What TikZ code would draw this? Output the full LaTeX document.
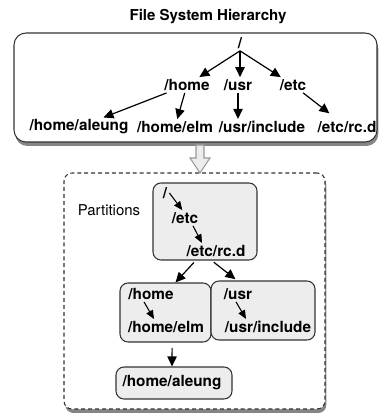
\documentclass[tikz,border=0pt]{standalone}
\usepackage{fontspec}
\setmainfont{TeX Gyre Heros}
\usepackage{tikz}
\usetikzlibrary{arrows.meta}
\usetikzlibrary{shadows}
\usetikzlibrary{fit}
\usetikzlibrary{positioning}
\tikzset{
  dirname/.style={font=\fontsize{11.5}{13}\selectfont\bfseries, inner sep=1.5pt},
  treebox/.style={draw=black!80, line width=0.8pt, rounded corners=9pt, fill=white, inner sep=0pt,
    drop shadow={shadow xshift=1pt, shadow yshift=-3pt, fill=black!80, opacity=0.6}},
  partbox/.style={draw=black!80, line width=0.8pt, rounded corners=6pt, fill=gray!14, inner sep=0pt}
}

\begin{document}
\begin{tikzpicture}[
    x=0.75pt, y=-0.75pt,
    big arrow/.style={-{Triangle[length=7.5pt,width=7pt]}, line width=0.9pt}, % tree arrows
    small arrow/.style={-{Triangle[length=6.5pt,width=5.5pt]}, line width=0.8pt} % arrows inside partitions
]
    \useasboundingbox (0,0) rectangle (378,413);

    % Boxes
    \node (hier) [treebox, fit={(14,33) (377,142)}] {};
    \node (parts) [treebox, dashed, dash pattern=on 3pt off 2.2pt, rounded corners=6pt, fit={(64,173) (325,409)}] {};
    \node (p1) [partbox, fit={(153,183) (257,260)}] {};
    \node (p2) [partbox, fit={(120,283) (211,342)}] {};
    \node (p3) [partbox, fit={(211,281) (315,340)}] {};
    \node (p4) [partbox, fit={(116,367) (232,399)}] {};

    % Title and label
    \node (title) [font=\fontsize{11.3}{13}\selectfont\bfseries] at (208,17) {File System Hierarchy};
    \node (plabel) [font=\fontsize{11.2}{13}\selectfont] at (109,210) {Partitions};

    % Define nodes (hierarchy)
    \node (root) [dirname] at (240,43) {/};
    \node (home) [dirname] at (187,85) {/home};
    \node (usr) [dirname] at (238,85) {/usr};
    \node (etc) [dirname] at (293,85) {/etc};
    \node (aleung) [dirname] at (79,127) {/home/aleung};
    \node (elm) [dirname] at (175,127) {/home/elm};
    \node (include) [dirname] at (262,127) {/usr/include};
    \node (rcd) [dirname] at (347,127) {/etc/rc.d};

    % Define nodes (partitions)
    \node (rootA) [dirname] at (165,193) {/};
    \node (etcA) [dirname] at (185,218) {/etc};
    \node (rcdA) [dirname] at (216,251) {/etc/rc.d};
    \node (homeB) [dirname] at (151,294) {/home};
    \node (elmB) [dirname] at (166,327) {/home/elm};
    \node (usrC) [dirname] at (238,294) {/usr};
    \node (includeC) [dirname] at (268,327) {/usr/include};
    \node (aleungD) [dirname] at (172,383) {/home/aleung};

    % Draw edges (hierarchy)
    \draw[big arrow] (root.south) -- (home);
    \draw[big arrow] (root.south) -- (root.south |- usr.north);
    \draw[big arrow] (root.south) -- (etc);
    \draw[big arrow] (home) -- (aleung);
    \draw[big arrow] (home) -- (elm);
    \draw[big arrow] (usr.south) -- (usr.south |- include.north);
    \draw[big arrow, shorten >=7pt] (etc) -- (rcd);

    % Big hollow arrow between the boxes
    \draw[draw=gray!80, fill=gray!15, line width=0.8pt]
      (196,145) -- (204,145) -- (204,158) -- (210,158) -- (200,173)
      -- (190,158) -- (196,158) -- cycle;

    % Draw edges (partitions)
    \draw[small arrow] (rootA.east) -- ([xshift=-2pt]etcA.north);
    \draw[small arrow] ([xshift=6pt]etcA.south) -- ([xshift=-10.5pt]rcdA.north);
    \draw[small arrow] ([xshift=-5.25pt]homeB.south) -- ([xshift=-9pt]elmB.north);
    \draw[small arrow] ([xshift=-1.5pt]usrC.south) -- ([xshift=-16.5pt]includeC.north);
    \draw[big arrow, shorten <=2pt] ([xshift=-7pt]p1.south) -- ([xshift=7.5pt]p2.north);
    \draw[big arrow, shorten <=2pt, shorten >=1.5pt] ([xshift=5pt]p1.south) -- ([xshift=-19.5pt]p3.north);
    \draw[big arrow, shorten <=4pt] ([xshift=5pt]p2.south) -- ([xshift=-1.5pt]p4.north);

\end{tikzpicture}
\end{document}
